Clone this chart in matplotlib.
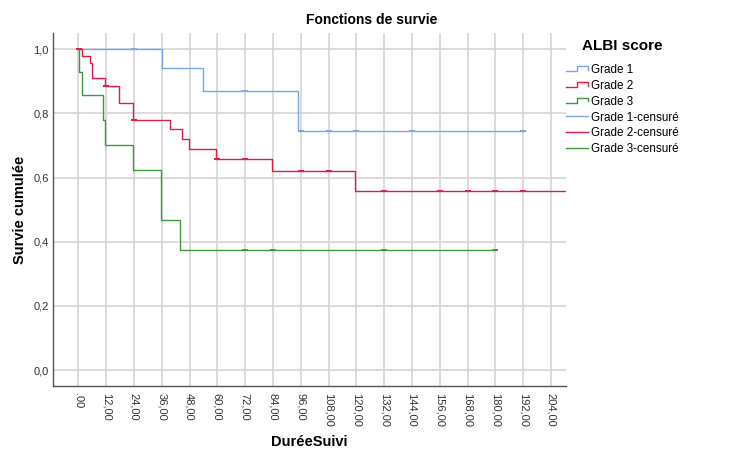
import matplotlib
matplotlib.use("Agg")
import matplotlib.pyplot as plt
from matplotlib.lines import Line2D
from matplotlib.legend_handler import HandlerBase

plt.rcParams['font.family'] = ['Liberation Sans', 'DejaVu Sans']

# Kaplan-Meier steps
g1_t = [0, 36, 54, 95, 192]
g1_s = [1.0, 0.941, 0.870, 0.745, 0.745]
g1_cens_t = [24, 72, 96, 108, 120, 144, 192]
g1_cens_s = [1.0, 0.870, 0.745, 0.745, 0.745, 0.745, 0.745]

g2_t = [0, 1.6, 5, 6, 11.7, 17.7, 23.7, 39.7, 44.6, 47.8, 59.6, 83.6, 119.6, 215]
g2_s = [1.0, 0.979, 0.956, 0.909, 0.885, 0.833, 0.778, 0.750, 0.719, 0.690,
        0.659, 0.621, 0.559, 0.559]
g2_cens_t = [0.5, 12, 24, 60, 72, 96, 108, 132, 156, 168, 180, 192]
g2_cens_s = [1.0, 0.885, 0.778, 0.659, 0.659, 0.621, 0.621, 0.559, 0.559,
             0.559, 0.559, 0.559]

g3_t = [0, 0.4, 1.6, 10.8, 11.7, 23.7, 35.7, 44, 180]
g3_s = [1.0, 0.929, 0.857, 0.779, 0.701, 0.623, 0.467, 0.375, 0.375]
g3_cens_t = [72, 84, 132, 180]
g3_cens_s = [0.375, 0.375, 0.375, 0.375]

x_ticks = list(range(0, 205, 12))
x_labels = ['.00'] + ['%d,00' % v for v in x_ticks[1:]]
y_ticks = [0.0, 0.2, 0.4, 0.6, 0.8, 1.0]
y_labels = ['0,0', '0,2', '0,4', '0,6', '0,8', '1,0']

c1 = '#7aa6e6'
c2 = '#dc1e46'
c3 = '#3d9a3d'


class StepHandler(HandlerBase):
    def create_artists(self, legend, orig, xd, yd, w, h, fontsize, trans):
        xs = [-xd, -xd + w * 0.5, -xd + w * 0.5, -xd + w, -xd + w]
        ys = [-yd + h * 0.2, -yd + h * 0.2, -yd + h * 0.8, -yd + h * 0.8, -yd + h * 0.4]
        ln = Line2D(xs, ys, color=orig.get_color(), lw=1.0)
        ln.set_transform(trans)
        return [ln]


fig = plt.figure(figsize=(7.37, 4.49), dpi=100)
ax = fig.add_axes([0.072, 0.140, 0.696, 0.786])

for t, s, c in [(g1_t, g1_s, c1), (g2_t, g2_s, c2), (g3_t, g3_s, c3)]:
    ax.step(t, s, where='post', color=c, lw=1.0, zorder=3)
for t, s, c in [(g1_cens_t, g1_cens_s, c1), (g2_cens_t, g2_cens_s, c2),
                (g3_cens_t, g3_cens_s, c3)]:
    ax.plot(t, s, ls='none', marker='_', ms=5, mew=1.4, color=c, zorder=4)

ax.set_xlim(-10.9, 210.5)
ax.set_ylim(-0.05, 1.05)
ax.set_xticks(x_ticks)
ax.set_xticklabels(x_labels, rotation=-90, fontsize=8, color='#333333')
ax.set_yticks(y_ticks)
ax.set_yticklabels(y_labels, fontsize=8, color='#333333')
ax.tick_params(axis='y', length=0, pad=3)
ax.tick_params(axis='x', length=0, pad=5)
ax.grid(True, color='#d4d4d4', lw=1.2)
ax.set_axisbelow(True)
for sp in ['top', 'right']:
    ax.spines[sp].set_visible(False)
for sp in ['left', 'bottom']:
    ax.spines[sp].set_color('#555555')
    ax.spines[sp].set_linewidth(1.0)

ax.set_xlabel('DuréeSuivi', fontsize=10.5, fontweight='bold', labelpad=6)
ax.set_ylabel('Survie cumulée', fontsize=10.5, fontweight='bold', labelpad=5)
fig.text(0.505, 0.955, 'Fonctions de survie', ha='center', va='center',
         fontsize=10, fontweight='bold')
fig.text(622 / 737, 1 - 46 / 449, 'ALBI score', ha='center', va='center',
         fontsize=11, fontweight='bold')

h1 = Line2D([], [], color=c1)
h2 = Line2D([], [], color=c2)
h3 = Line2D([], [], color=c3)
h4 = Line2D([], [], color=c1, lw=1.0)
h5 = Line2D([], [], color=c2, lw=1.0)
h6 = Line2D([], [], color=c3, lw=1.0)
step_h = StepHandler()
leg = fig.legend([h1, h2, h3, h4, h5, h6],
                 ['Grade 1', 'Grade 2', 'Grade 3', 'Grade 1-censuré',
                  'Grade 2-censuré', 'Grade 3-censuré'],
                 handler_map={h1: step_h, h2: step_h, h3: step_h},
                 loc='upper left', bbox_to_anchor=(566 / 737, 1 - 64 / 449),
                 frameon=False, fontsize=8.4,
                 handlelength=1.9, handletextpad=0.25, labelspacing=0.33,
                 borderaxespad=0, borderpad=0)

fig.savefig('out.png', dpi=100)
